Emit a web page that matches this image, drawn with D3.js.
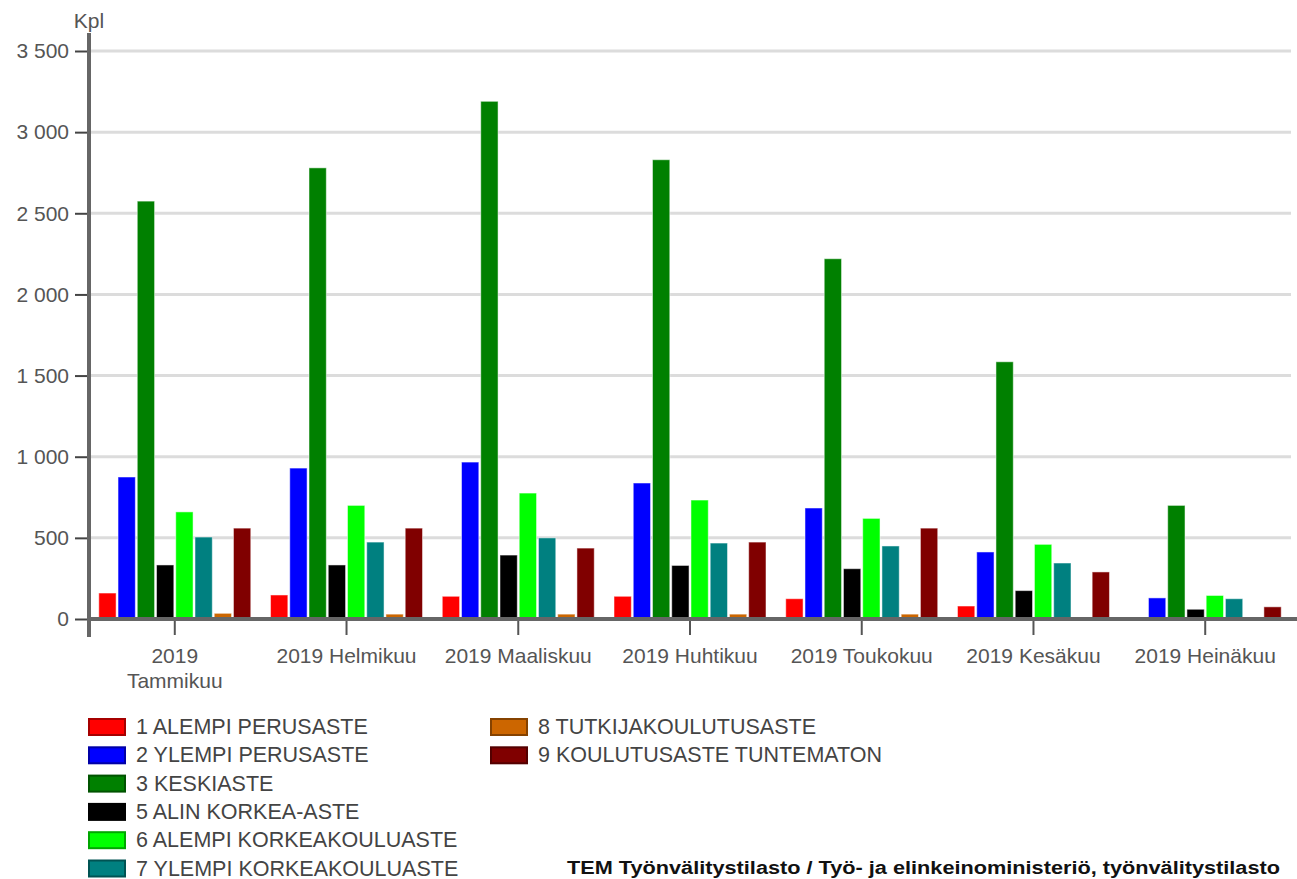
<!DOCTYPE html>
<html>
<head>
<meta charset="utf-8">
<script src="https://cdn.jsdelivr.net/npm/d3@7"></script>
<style>
  body { margin: 0; background: #fff; }
  svg { display: block; font-family: "Liberation Sans", Arial, sans-serif; }
  .ytick text { fill: #555; font-size: 21px; }
  .xtick text { fill: #555; font-size: 21px; }
  .legend text { fill: #444; font-size: 21.5px; }
</style>
</head>
<body>
<svg id="chart" width="1297" height="879"></svg>
<script>
// kuukaudet (x-akseli)
var months = ["2019 Tammikuu", "2019 Helmikuu", "2019 Maaliskuu", "2019 Huhtikuu", "2019 Toukokuu", "2019 Kesäkuu", "2019 Heinäkuu"];
// akselin tekstit riveittäin (ensimmäinen rivittyy)
var monthLines = [["2019", "Tammikuu"], ["2019 Helmikuu"], ["2019 Maaliskuu"], ["2019 Huhtikuu"], ["2019 Toukokuu"], ["2019 Kesäkuu"], ["2019 Heinäkuu"]];

var seriesNames = ["1 ALEMPI PERUSASTE", "2 YLEMPI PERUSASTE", "3 KESKIASTE", "5 ALIN KORKEA-ASTE",
  "6 ALEMPI KORKEAKOULUASTE", "7 YLEMPI KORKEAKOULUASTE", "8 TUTKIJAKOULUTUSASTE", "9 KOULUTUSASTE TUNTEMATON"];
var seriesColors = ["#ff0000", "#0000ff", "#008000", "#000000", "#00ff00", "#008080", "#cc6600", "#800000"];

var alempiPerus       = [160, 148, 140, 140, 125, 80, 10];
var ylempiPerus       = [875, 930, 967, 838, 684, 413, 130];
var keskiaste         = [2575, 2780, 3190, 2830, 2220, 1585, 700];
var alinKorkea        = [333, 333, 394, 330, 310, 175, 60];
var alempiKorkeakoulu = [660, 700, 776, 733, 620, 460, 145];
var ylempiKorkeakoulu = [505, 474, 500, 468, 450, 345, 125];
var tutkija           = [35, 30, 30, 30, 30, 5, 3];
var tuntematon        = [560, 560, 437, 474, 560, 290, 75];

var yTicks = [0, 500, 1000, 1500, 2000, 2500, 3000, 3500];
var unitLabel = "Kpl";
var sourceText = "TEM Työnvälitystilasto / Työ- ja elinkeinoministeriö, työnvälitystilasto";

var values = [alempiPerus, ylempiPerus, keskiaste, alinKorkea, alempiKorkeakoulu, ylempiKorkeakoulu, tutkija, tuntematon];

var svg = d3.select("#chart");
var plot = {left: 89, right: 1291, top: 51, bottom: 619};

var x0 = d3.scaleBand()
    .domain(months)
    .range([plot.left, plot.right])
    .paddingInner(0.115)
    .paddingOuter(0.057);

var x1 = d3.scaleBand()
    .domain(d3.range(seriesNames.length))
    .range([0, x0.bandwidth()])
    .paddingInner(0.1);

var y = d3.scaleLinear()
    .domain([0, 3500])
    .range([plot.bottom, plot.top]);

var fmt = function(d){ return d3.format(",")(d).replace(/,/g, " "); };

// vaakaviivat
svg.append("g")
    .selectAll("line")
    .data(yTicks.filter(function(d){ return d > 0; }))
    .enter().append("line")
    .attr("x1", plot.left)
    .attr("x2", plot.right)
    .attr("y1", function(d){ return y(d); })
    .attr("y2", function(d){ return y(d); })
    .attr("stroke", "#dcdcdc")
    .attr("stroke-width", 3);

// pylväät
var groups = svg.append("g").selectAll("g")
    .data(months)
    .enter().append("g")
    .attr("transform", function(d){ return "translate(" + x0(d) + ",0)"; });

groups.selectAll("rect")
    .data(function(m, i){
      return values.map(function(s, j){ return {s: j, v: s[i]}; });
    })
    .enter().append("rect")
    .attr("x", function(d){ return x1(d.s); })
    .attr("width", x1.bandwidth())
    .attr("y", function(d){ return y(d.v); })
    .attr("height", function(d){ return y(0) - y(d.v); })
    .attr("fill", function(d){ return seriesColors[d.s]; })
    .attr("stroke", "#fff")
    .attr("stroke-opacity", 0.5)
    .attr("stroke-width", 1);

// y-akseli
var yAxis = svg.append("g")
    .attr("class", "ytick")
    .attr("transform", "translate(" + plot.left + ",0)")
    .call(d3.axisLeft(y).tickValues(yTicks).tickFormat(fmt).tickSize(14).tickPadding(6));
yAxis.select(".domain").remove();
yAxis.selectAll("line").attr("stroke", "#444").attr("stroke-width", 2);

svg.append("line")
    .attr("x1", plot.left).attr("x2", plot.left)
    .attr("y1", 33).attr("y2", 637)
    .attr("stroke", "#666").attr("stroke-width", 4);

svg.append("text")
    .attr("x", plot.left)
    .attr("y", 28)
    .attr("text-anchor", "middle")
    .attr("fill", "#555")
    .style("font-size", "21px")
    .text(unitLabel);

// x-akseli
var xAxis = svg.append("g")
    .attr("class", "xtick")
    .attr("transform", "translate(0," + plot.bottom + ")")
    .call(d3.axisBottom(x0).tickSize(16).tickFormat(""));
xAxis.select(".domain").remove();
xAxis.selectAll("line").attr("stroke", "#555").attr("stroke-width", 2);

svg.append("line")
    .attr("x1", plot.left - 2).attr("x2", 1297)
    .attr("y1", plot.bottom).attr("y2", plot.bottom)
    .attr("stroke", "#666").attr("stroke-width", 4);

var xl = svg.append("g").attr("class", "xtick")
    .selectAll("text")
    .data(months)
    .enter().append("text")
    .attr("x", function(d){ return x0(d) + x0.bandwidth() / 2; })
    .attr("y", 663)
    .attr("text-anchor", "middle");

xl.selectAll("tspan")
    .data(function(d, i){ return monthLines[i]; })
    .enter().append("tspan")
    .attr("x", function(){ return d3.select(this.parentNode).attr("x"); })
    .attr("dy", function(d, i){ return i === 0 ? 0 : 25; })
    .text(function(d){ return d; });

// selite
var legend = svg.append("g").attr("class", "legend")
    .selectAll("g")
    .data(seriesNames)
    .enter().append("g")
    .attr("transform", function(d, i){
      var col = i < 6 ? 0 : 1;
      var row = i < 6 ? i : i - 6;
      return "translate(" + (col === 0 ? 88 : 490) + "," + (718 + row * 28.3) + ")";
    });

legend.append("rect")
    .attr("x", 1).attr("y", 1)
    .attr("width", 36).attr("height", 16)
    .attr("fill", function(d, i){ return seriesColors[i]; })
    .attr("stroke", function(d, i){ return d3.color(seriesColors[i]).darker(1.2); })
    .attr("stroke-width", 2);

legend.append("text")
    .attr("x", 48)
    .attr("y", 16)
    .text(function(d){ return d; });

// lähde
svg.append("text")
    .attr("x", 567)
    .attr("y", 874)
    .attr("textLength", 713)
    .attr("lengthAdjust", "spacingAndGlyphs")
    .attr("fill", "#111")
    .style("font-size", "18px")
    .style("font-weight", "bold")
    .text(sourceText);
</script>
</body>
</html>
